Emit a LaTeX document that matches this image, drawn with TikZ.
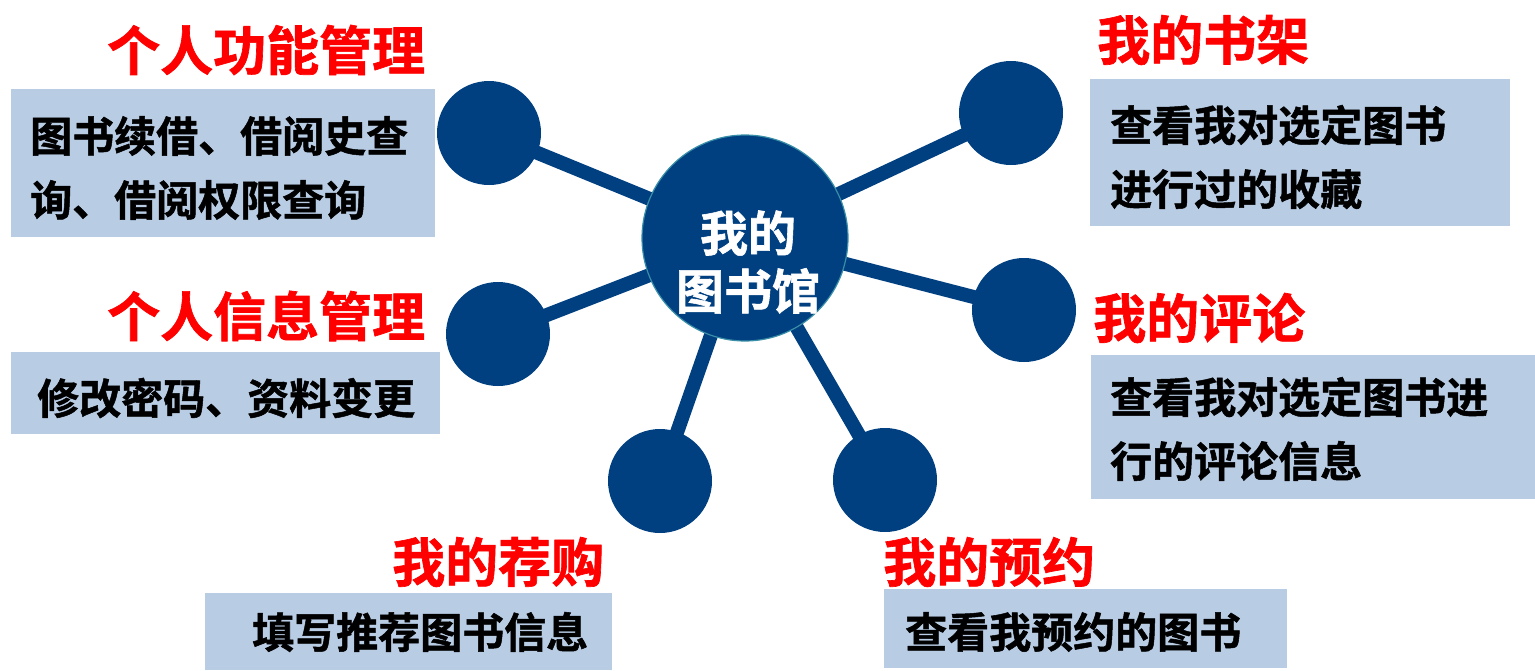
\documentclass[tikz,border=0pt]{standalone}
\usepackage{fontspec}
\newfontfamily\cjk[FakeBold=1.2]{Noto Sans CJK SC Bold}
\definecolor{navy}{HTML}{003F80}
\definecolor{boxfill}{HTML}{B8CCE4}
\definecolor{rim}{HTML}{3A8FA8}
\begin{document}
\begin{tikzpicture}[x=1pt,y=-1pt,
  hub/.style={circle,fill=navy,draw=rim,line width=1.2pt,minimum size=206pt,inner sep=0pt},
  sat/.style={circle,fill=navy,minimum size=104pt,inner sep=0pt},
  spoke/.style={draw=navy,line width=14pt},
  infobox/.style={fill=boxfill,draw=none},
  title/.style={text=red,font=\cjk\fontsize{53}{60}\selectfont,inner sep=0pt,anchor=west},
  body/.style={text=black,font=\cjk\fontsize{42}{64}\selectfont,inner sep=0pt,anchor=west,align=left}]
\useasboundingbox (0,0) rectangle (1535,670);
% boxes
\fill[infobox] (11,89) rectangle (435,237);
\fill[infobox] (11,352) rectangle (440,434);
\fill[infobox] (1090,79) rectangle (1510,226);
\fill[infobox] (1091,355) rectangle (1535,499);
\fill[infobox] (205,593) rectangle (612,670);
\fill[infobox] (884,589) rectangle (1287,668);
% centres
\coordinate (pc) at (745,238);
\coordinate (p1) at (489,133);
\coordinate (p2) at (1011,113);
\coordinate (p3) at (498,334);
\coordinate (p4) at (1024,310);
\coordinate (p5) at (660,481);
\coordinate (p6) at (885,480);
% spokes
\draw[spoke] (pc) -- (p1);
\draw[spoke] (pc) -- (p2);
\draw[spoke] (pc) -- (p3);
\draw[spoke] (pc) -- (p4);
\draw[spoke] (pc) -- (p5);
\draw[spoke] (pc) -- (p6);
% circles
\node[sat] (s1) at (p1) {};
\node[sat] (s2) at (p2) {};
\node[sat] (s3) at (p3) {};
\node[sat] (s4) at (p4) {};
\node[sat] (s5) at (p5) {};
\node[sat] (s6) at (p6) {};
\node[hub] (c) at (pc) {};
\node[text=white,font=\cjk\fontsize{48}{58}\selectfont,align=center,inner sep=0pt] (ct) at (748,262) {我的\\图书馆};
% titles
\node[title] (t1) at (107,50) {个人功能管理};
\node[title] (t2) at (107,316) {个人信息管理};
\node[title] (t3) at (1097,40) {我的书架};
\node[title] (t4) at (1093,318) {我的评论};
\node[title] (t5) at (392,562) {我的荐购};
\node[title] (t6) at (883,562) {我的预约};
% texts
\node[body] (b1) at (30,168) {图书续借、借阅史查\\询、借阅权限查询};
\node[body] (b2) at (37,398) {修改密码、资料变更};
\node[body] (b3) at (1110,157) {查看我对选定图书\\进行过的收藏};
\node[body] (b4) at (1110,429) {查看我对选定图书进\\行的评论信息};
\node[body] (b5) at (252,632) {填写推荐图书信息};
\node[body] (b6) at (905,632) {查看我预约的图书};
\end{tikzpicture}
\end{document}
